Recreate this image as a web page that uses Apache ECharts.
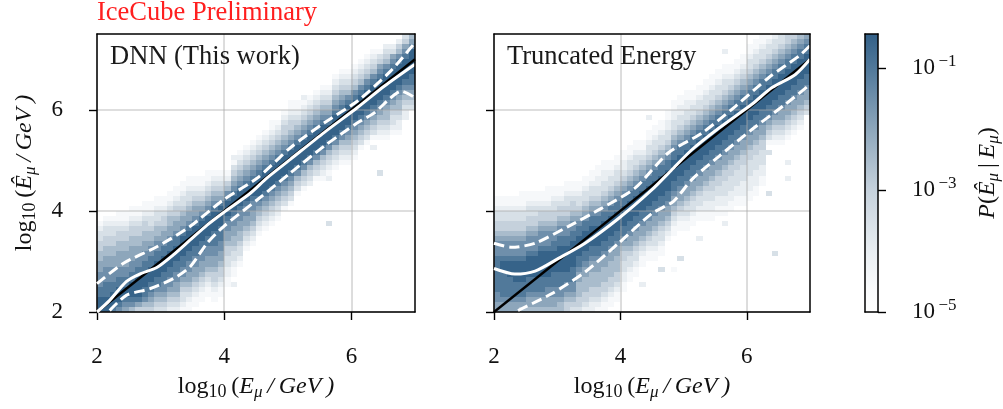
<!DOCTYPE html>
<html><head><meta charset="utf-8">
<style>html,body{margin:0;padding:0;background:#fff}#c{width:1003px;height:409px}</style>
<script src="https://cdn.jsdelivr.net/npm/echarts@6/dist/echarts.min.js"></script>
</head><body><div id="c"></div>
<script>
// Heat cells: one string per x bin (0.1 wide from 2.0); first char sits at the row in *Start; each digit L means log10 P = -5 + L/2; 0 = empty
const dnnStart=[0,0,0,0,0,0,0,0,0,0,0,0,0,0,0,0,0,0,2,3,5,5,9,12,13,15,16,17,18,20,21,23,24,25,26,26,17,28,29,29,30,32,33,32,27,34,35,35,38,40];
const dnnLevels=["999887776655443321","9998887776655443321","8999887776655443321","78999887766655443211","67899887766655443211","578999887766655443211","468999988776655443211","4578899988776655443211","4567889998877655433211","34567889998877655433211","34567788999887665443211","234567788999887665543211","2345667788999887665443211","12334567788999987665433211",
"112345667788"+"9999"+"87665433211","0112345667788"+"9999"+"8766543211","00112345667788"+"9999"+"876543211","000112345667788"+"9999"+"876543211","11234456677888"+"9999"+"87654321","11234456677888"+"9999"+"8654321","11223344566778999875421","20"+"112334556677"+"8999"+"8765431"+"2","123345566778"+"999"+"87654321","1234566778"+"999"+"87654321","1234566778"+"999"+"87654321",
"12345678999987654321","12345678999987654321","123456789999876543211","12345678999987654321","13456789999876544321","134567899998765443211","1345789999876543211","1345789999876543212","234578999987654321","134578999987654321","1234578999987654321","3000000002123457899987654321","1234578999987654321","1234578999987654321","1234567899998754321","1234567899998754321","134567899998754321","134567899998754321","20134567899998754321","3000000123456789999876431","1234556789999875432","123345678999987632","1223455678999987542","22345678999987643","3456788999997654"];
const truncStart=[0,0,0,0,0,0,0,0,0,0,0,0,0,0,0,0,0,0,0,0,4,6,7,5,10,10,8,14,8,10,16,17,14,18,18,19,17,20,21,21,22,23,25,23,11,33,26,35,36,39];
const truncLevels=["66778888888777654433211","66788888998777654433211","66788889998777654433211","66788899998777654433211","567888999987776544332111","566788899998777654433211","566788899998777654433211","566788899999877765443211","5667788999998777654432111","5667788899998877654433211","5567788899999887765443211","44567788999998877654433211","34567788899999887765443211",
"34455566"+"7889999887"+"65433211","234455566"+"7889999887"+"65433211","2234455566"+"7889999887"+"65433211","1234455566"+"7889999887"+"654332211","11234455566"+"7889999887"+"654332211","011234455566"+"7889999887"+"65433211","0011234455566"+"7889999887"+"65433211","1122334456788999988765432211",
"112334566"+"7889999887"+"65433211","112334566"+"7889999887"+"65433211","2000"+"11234566"+"7889999887"+"6543211","11234566"+"7889999887"+"65433211"+"00"+"2","112334566"+"7889999887"+"65433211","300"+"112334566"+"7889999887"+"65433211","1234566"+"7889999887"+"654332211","1000000"+"11234566"+"7889999887"+"654332211","300000"+"11234566"+"7889999887"+"654332211","112334566"+"7889999887"+"654332211","112334566"+"7889999887"+"65433211","2000"+"112334566"+"7889999887"+"65433211","1122334566"+"7889999887"+"65433211","11223344566"+"7889999887"+"65433211","11223344566"+"7889999887"+"65433211","20"+"112233344566"+"7889999887"+"65433211"+"00"+"2","112233344566"+"7889999887"+"6543211","112233344566"+"7889999887"+"6543211","1122233344566"+"7889999887"+"6543211","1122233344566"+"7889999887"+"65433211","1122233344566"+"7889999887"+"65433211","112233344566"+"7889999887"+"65433211","3"+"0000000"+"3"+"0"+"13456"+"7889999887"+"6543321","3"+"000000000000000000000"+"123456"+"7889999887"+"654332","1234566"+"7889999887"+"65433","2002"+"0000"+"1234566"+"7889999887"+"6544","1234566"+"7889999887"+"654","1234566"+"7889999887"+"65","34566"+"7889999887"+"6"];
const dnnMedian=[[2,2],[2.2,2.23],[2.46,2.6],[2.67,2.75],[2.94,2.88],[3.2,3.13],[3.46,3.42],[3.73,3.72],[3.99,3.97],[4.41,4.35],[4.67,4.65],[5.04,5.02],[5.57,5.55],[6.09,6.04],[6.52,6.47],[7,6.9]];
const dnnUpper=[[2,2.56],[2.41,2.96],[2.94,3.29],[3.46,3.69],[3.99,4.22],[4.52,4.65],[5.04,5.25],[5.57,5.74],[6.09,6.17],[6.62,6.77],[7,7.33]];
const dnnLower=[[2.2,2.03],[2.46,2.33],[2.83,2.46],[3.2,2.66],[3.46,2.89],[3.73,3.36],[3.99,3.69],[4.52,4.22],[5.04,4.75],[5.57,5.28],[6.09,5.74],[6.36,5.94],[6.62,6.24],[6.78,6.37],[7,6.24]];
const truncMedian=[[2,2.86],[2.33,2.75],[2.65,2.81],[3.02,3.06],[3.44,3.36],[3.97,3.85],[4.5,4.42],[4.81,4.81],[5.13,5.21],[5.56,5.64],[6.08,6.11],[6.4,6.44],[6.77,6.7],[7,7]];
const truncUpper=[[2,3.36],[2.28,3.28],[2.65,3.36],[3.17,3.69],[3.7,4.05],[4.23,4.45],[4.76,5.15],[5.29,5.54],[5.82,6.07],[6.35,6.64],[6.83,7.07],[7,7.27]];
const truncLower=[[2.38,2.03],[2.91,2.36],[3.44,2.79],[3.97,3.36],[4.5,3.95],[4.84,4.19],[5.13,4.62],[5.56,5.08],[6.08,5.61],[6.61,6.11],[7,6.5]];
const diagonal=[[2,2],[7,7]];
const tickValues=[2,4,6];
const colorbarTicks=[-5,-3,-1];
const colorbarRange=[-5,-0.44];
const colormapStops=[[0,'#ffffff'],[0.08,'#fafbfc'],[0.22,'#e9eef2'],[0.44,'#c5d1dc'],[0.65,'#8fa8bc'],[0.88,'#50789a'],[1,'#336087']];
const panelTitles=["DNN (This work)","Truncated Energy"];

const FONT='"Liberation Serif"';
function cells(starts,levels){const out=[];levels.forEach((s,c)=>{for(let i=0;i<s.length;i++){const L=+s[i];if(L>0)out.push([2+c*0.1,2+(starts[c]+i)*0.1,-5+L*0.5]);}});return out;}
function colorOf(v){const t=(v-colorbarRange[0])/(colorbarRange[1]-colorbarRange[0]);
  for(let i=1;i<colormapStops.length;i++){if(t<=colormapStops[i][0]){const a=colormapStops[i-1],b=colormapStops[i];return echarts.color.lerp((t-a[0])/(b[0]-a[0]),[a[1],b[1]]);}}
  return colormapStops[colormapStops.length-1][1];}
function heat(data,ax){return {type:'custom',xAxisIndex:ax,yAxisIndex:ax,data,z:2,clip:true,silent:true,encode:{x:0,y:1},
  renderItem(p,api){const a=api.coord([api.value(0),api.value(1)]),b=api.coord([api.value(0)+0.1,api.value(1)+0.1]);
    const x0=Math.round(a[0]),x1=Math.round(b[0]),y0=Math.round(b[1]),y1=Math.round(a[1]);
    return {type:'rect',shape:{x:x0,y:y0,width:x1-x0,height:y1-y0},style:{fill:colorOf(api.value(2))}};}};}
function line(data,ax,color,width,dash){return {type:'line',xAxisIndex:ax,yAxisIndex:ax,data,z:4,silent:true,symbol:'none',smooth:0.25,clip:true,animation:false,
  lineStyle:{color,width,type:dash?[10.5,5]:'solid',cap:'butt'}};}
const rich={a:{fontFamily:FONT,fontSize:24,lineHeight:28,color:'#111'},i:{fontFamily:FONT,fontSize:24,lineHeight:28,fontStyle:'italic',color:'#111'},
  s:{fontFamily:FONT,fontSize:18,lineHeight:18,verticalAlign:'bottom',color:'#111'},si:{fontFamily:FONT,fontSize:17,lineHeight:18,verticalAlign:'bottom',fontStyle:'italic',color:'#111'},
  b:{fontFamily:FONT,fontSize:23,lineHeight:30,color:'#111'},u:{fontFamily:FONT,fontSize:17,lineHeight:17,verticalAlign:'top',color:'#111'}};
const xName='{a|log}{s|10}{a|\u2009(}{i|E}{si|μ}{i|\u2009/\u2009GeV\u2009)}';
const yName='{a|log}{s|10}{a|\u2009(}{i|Ê}{si|μ}{i|\u2009/\u2009GeV\u2009)}';
const splitLine={show:true,lineStyle:{color:'rgba(170,170,170,0.5)',width:1.6}};
const edge={show:true,onZero:false,lineStyle:{color:'#000',width:1.5}};
function xMain(g,name){return {type:'value',gridIndex:g,min:2,max:7,interval:2,z:3,axisLine:edge,splitLine,
  axisTick:{show:true,length:8,customValues:tickValues,lineStyle:{color:'#000',width:1.4}},
  axisLabel:{customValues:tickValues,margin:33,fontFamily:FONT,fontSize:23,color:'#111'},
  name,nameLocation:'middle',nameGap:61,nameTextStyle:{rich}};}
function xFrame(g){return {type:'value',gridIndex:g,position:'top',min:2,max:7,z:5,axisLine:edge,axisTick:{show:false},axisLabel:{show:false},splitLine:{show:false}};}
function yMain(g,name,labels){return {type:'value',gridIndex:g,min:2,max:7.5,interval:2,z:3,axisLine:edge,splitLine,
  axisTick:{show:true,length:8,customValues:tickValues,lineStyle:{color:'#000',width:1.4}},
  axisLabel:{show:labels,customValues:tickValues,margin:34,fontFamily:FONT,fontSize:23,color:'#111'},
  name,nameLocation:'middle',nameGap:58,nameTextStyle:{rich}};}
function yFrame(g){return {type:'value',gridIndex:g,position:'right',min:2,max:7.5,z:5,axisLine:edge,axisTick:{show:false},axisLabel:{show:false},splitLine:{show:false}};}

const chart=echarts.init(document.getElementById('c'),null,{renderer:'canvas'});
const tStyle=c=>({fontFamily:FONT,fontSize:26.5,fontWeight:'normal',color:c});
chart.setOption({animation:false,backgroundColor:'#fff',
 title:[
  {text:'IceCube Preliminary',left:97,top:0,padding:0,textStyle:tStyle('#ff1f1f')},
  {text:panelTitles[0],left:110,top:44,padding:0,textStyle:tStyle('#1a1a1a')},
  {text:panelTitles[1],left:507,top:44,padding:0,textStyle:tStyle('#1a1a1a')}],
 grid:[{left:97,top:34,width:318,height:278},{left:494,top:34,width:316,height:278},{left:865,top:34,width:16,height:278}],
 xAxis:[xMain(0,xName),xFrame(0),xMain(1,xName),xFrame(1),
  {type:'value',gridIndex:2,min:0,max:1,z:5,axisLine:edge,axisTick:{show:false},axisLabel:{show:false},splitLine:{show:false}},
  {type:'value',gridIndex:2,position:'top',min:0,max:1,z:5,axisLine:edge,axisTick:{show:false},axisLabel:{show:false},splitLine:{show:false}}],
 yAxis:[yMain(0,yName,true),yFrame(0),yMain(1,'',false),yFrame(1),
  {type:'value',gridIndex:2,min:colorbarRange[0],max:colorbarRange[1],position:'left',z:5,axisLine:edge,axisTick:{show:false},axisLabel:{show:false},splitLine:{show:false}},
  {type:'value',gridIndex:2,position:'right',min:colorbarRange[0],max:colorbarRange[1],z:5,axisLine:edge,splitLine:{show:false},
   axisTick:{show:true,length:8,customValues:colorbarTicks,lineStyle:{color:'#000',width:1.4}},
   axisLabel:{customValues:colorbarTicks,margin:34,rich,formatter:v=>`{b|10}{u|\u2009−${Math.abs(v)}}`},
   name:'{i|P}{a|(}{i|Ê}{si|μ}{a|\u2009|\u2009}{i|E}{si|μ}{a|)}',nameLocation:'middle',nameRotate:90,nameGap:96,nameTextStyle:{rich}}],
 series:[
  heat(cells(dnnStart,dnnLevels),0),
  heat(cells(truncStart,truncLevels),2),
  line(diagonal,0,'#000',2.4),line(dnnMedian,0,'#fff',3),line(dnnUpper,0,'#fff',3,true),line(dnnLower,0,'#fff',3,true),
  line(diagonal,2,'#000',2.4),line(truncMedian,2,'#fff',3),line(truncUpper,2,'#fff',3,true),line(truncLower,2,'#fff',3,true),
  {type:'custom',xAxisIndex:4,yAxisIndex:4,z:2,silent:true,data:[[0,colorbarRange[0],1,colorbarRange[1]]],encode:{x:0,y:1},
   renderItem(p,api){const a=api.coord([api.value(0),api.value(1)]),b=api.coord([api.value(2),api.value(3)]);
    return {type:'rect',shape:{x:a[0],y:b[1],width:b[0]-a[0],height:a[1]-b[1]},style:{fill:new echarts.graphic.LinearGradient(0,1,0,0,colormapStops.map(s=>({offset:s[0],color:s[1]})))}};}}
 ]});
</script></body></html>
